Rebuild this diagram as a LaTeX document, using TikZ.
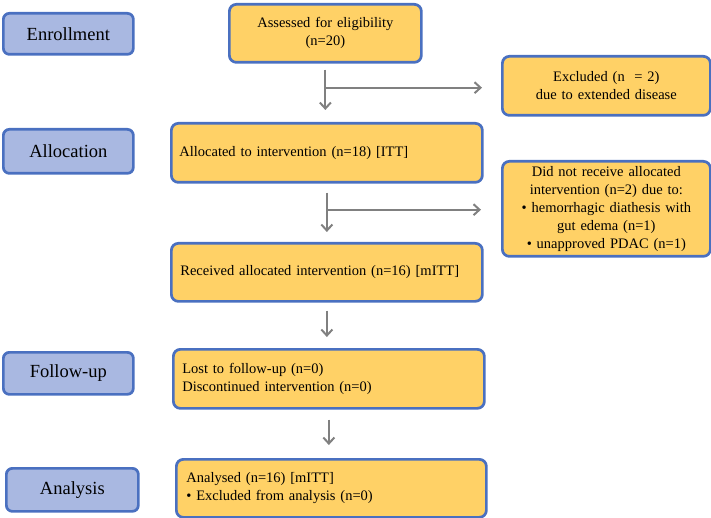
\documentclass[tikz,border=0pt]{standalone}
\usepackage{fontspec}
\setmainfont{Liberation Serif}
\usetikzlibrary{arrows.meta}
\definecolor{stageblue}{HTML}{A9B8E1}
\definecolor{edgeblue}{HTML}{4A70C0}
\definecolor{boxgold}{HTML}{FFD166}
\definecolor{arrgray}{HTML}{808080}
\begin{document}
\begin{tikzpicture}[x=1pt,y=-1pt,
  stage/.style={draw=edgeblue, fill=stageblue, line width=2.7pt, rounded corners=6pt, anchor=north west, inner sep=0pt, font=\fontsize{18.5}{22}\selectfont, align=center},
  gbox/.style={draw=edgeblue, fill=boxgold, line width=2.7pt, rounded corners=7pt, anchor=north west, inner ysep=0pt, font=\fontsize{14.5}{18}\selectfont},
  arr/.style={draw=arrgray, line width=2pt, -{Straight Barb[length=6pt,width=11pt]}}]
\useasboundingbox (0,0) rectangle (711,518);
% stage labels
\node[stage, minimum width=130pt, minimum height=41pt] (enr) at (2,12) {Enrollment};
\node[stage, minimum width=130pt, minimum height=44pt] (alc) at (2,128) {Allocation};
\node[stage, minimum width=130pt, minimum height=42pt] (fol) at (2,351) {Follow-up};
\node[stage, minimum width=132pt, minimum height=43pt] (ana) at (5,467) {Analysis};
% boxes
\node[gbox, inner xsep=8pt, text width=176pt, minimum height=58pt, align=center] (assess) at (228,3) {Assessed for eligibility\\(n=20)};
\node[gbox, inner xsep=8pt, text width=295pt, minimum height=59pt, align=left] (alloc) at (170,122) {Allocated to intervention (n=18) [ITT]};
\node[gbox, inner xsep=8pt, text width=192pt, minimum height=59pt, align=center] (excl) at (501,55) {Excluded (n\ \ = 2)\\due to extended disease};
\node[gbox, inner xsep=8pt, text width=192pt, minimum height=95pt, align=center] (dnr) at (501,160) {Did not receive allocated\\intervention (n=2) due to:\\\textbullet{} hemorrhagic diathesis with\\gut edema (n=1)\\\textbullet{} unapproved PDAC (n=1)};
\node[gbox, inner xsep=9pt, text width=293pt, minimum height=58pt, align=left] (recv) at (170,242) {Received allocated intervention (n=16) [mITT]};
\node[gbox, inner xsep=9pt, text width=293pt, minimum height=59pt, align=left] (follow) at (172,348) {Lost to follow-up (n=0)\\Discontinued intervention (n=0)};
\node[gbox, inner xsep=10pt, text width=290pt, minimum height=58pt, align=left] (anal) at (175,458) {Analysed (n=16) [mITT]\\\textbullet{} Excluded from analysis (n=0)};
% connectors
\path (assess.south) ++(0,24) coordinate (b1);
\path (alloc.south) ++(0,26) coordinate (b2);
\draw[arr, shorten <=6pt, shorten >=12pt] (assess.south) -- (assess.south |- alloc.north);
\draw[arr, shorten >=19pt] (b1) -- (b1 -| excl.west);
\draw[arr, shorten <=9pt, shorten >=10pt] (alloc.south) -- (alloc.south |- recv.north);
\draw[arr, shorten >=20pt] (b2) -- (b2 -| dnr.west);
\draw[arr, shorten <=8pt, shorten >=11pt] (recv.south) -- (recv.south |- follow.north);
\draw[arr, shorten <=10pt, shorten >=13pt] (follow.south) -- (follow.south |- anal.north);
\end{tikzpicture}
\end{document}
